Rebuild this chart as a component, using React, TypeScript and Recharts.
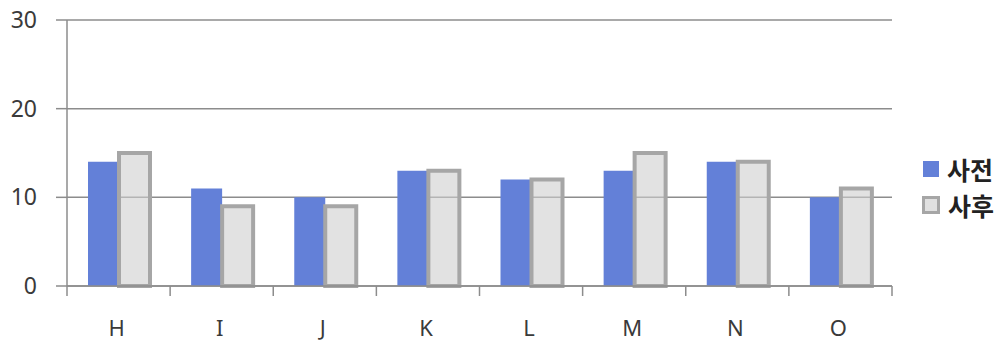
import { BarChart, Bar, XAxis, YAxis, CartesianGrid, Legend } from 'recharts';

const categories = ['H', 'I', 'J', 'K', 'L', 'M', 'N', 'O'];
const before = [14, 11, 10, 13, 12, 13, 14, 10];
const after = [15, 9, 9, 13, 12, 15, 14, 11];
const yTicks = [0, 10, 20, 30];

const data = categories.map((name, i) => ({
  name,
  before: before[i],
  after: after[i],
}));

const W = 1006;
const H = 343;
const LEFT = 67;
const RIGHT = 114;
const BAND = (W - LEFT - RIGHT) / categories.length;
const LINE = '#8c8c8c';
const TEXT = '#3a3a3a';

const XTick = (props: any) => {
  const { x, y, payload, index } = props;
  const axisY = y - 34;
  const left = x - BAND / 2;
  return (
    <g>
      <line x1={left} y1={axisY} x2={left} y2={axisY + 10} stroke={LINE} strokeWidth={1.5} />
      {index === categories.length - 1 && (
        <line x1={left + BAND} y1={axisY} x2={left + BAND} y2={axisY + 10} stroke={LINE} strokeWidth={1.5} />
      )}
      <text x={x - 2} y={y} dy="0.71em" textAnchor="middle" fill={TEXT} fontSize={22} fontFamily="Noto Sans">
        {payload.value}
      </text>
    </g>
  );
};

const LegendBox = () => (
  <div style={{ paddingLeft: 30, fontFamily: '"Noto Sans CJK KR"', fontWeight: 700, fontSize: 25, color: '#222' }}>
    <div style={{ display: 'flex', alignItems: 'center', height: 36 }}>
      <span style={{ width: 16, height: 16, background: '#6380D8', marginRight: 8, marginLeft: 1 }} />
      사전
    </div>
    <div style={{ display: 'flex', alignItems: 'center', height: 36 }}>
      <span
        style={{
          width: 12,
          height: 12,
          background: '#e0e0e0',
          border: '3px solid #a6a6a6',
          marginRight: 8,
        }}
      />
      사후
    </div>
  </div>
);

export default function App() {
  return (
    <div style={{ position: 'absolute', left: 0, top: 0 }}>
      <BarChart
        width={W}
        height={H}
        data={data}
        margin={{ top: 20, right: 4, left: 0, bottom: 0 }}
        barCategoryGap={21}
        barGap={0}
      >
        <CartesianGrid horizontal vertical={false} stroke={LINE} strokeWidth={1.5} />
        <XAxis
          dataKey="name"
          height={57}
          tickLine={false}
          tickSize={10}
          tickMargin={24}
          axisLine={{ stroke: LINE, strokeWidth: 1.5 }}
          tick={<XTick />}
          interval={0}
        />
        <YAxis
          width={67}
          domain={[0, 30]}
          ticks={yTicks}
          tickSize={11}
          tickMargin={19}
          tickLine={{ stroke: LINE, strokeWidth: 1.5 }}
          axisLine={{ stroke: LINE, strokeWidth: 1.5 }}
          tick={{ fill: TEXT, fontSize: 23, fontFamily: 'Noto Sans' }}
        />
        <Legend
          layout="vertical"
          align="right"
          verticalAlign="middle"
          width={110}
          wrapperStyle={{ top: 151 }}
          content={<LegendBox />}
        />
        <Bar dataKey="before" name="사전" fill="#6380D8" isAnimationActive={false} />
        <Bar
          dataKey="after"
          name="사후"
          fill="#cfcfcf"
          fillOpacity={0.6}
          stroke="#a6a6a6"
          strokeWidth={4}
          isAnimationActive={false}
        />
      </BarChart>
    </div>
  );
}
